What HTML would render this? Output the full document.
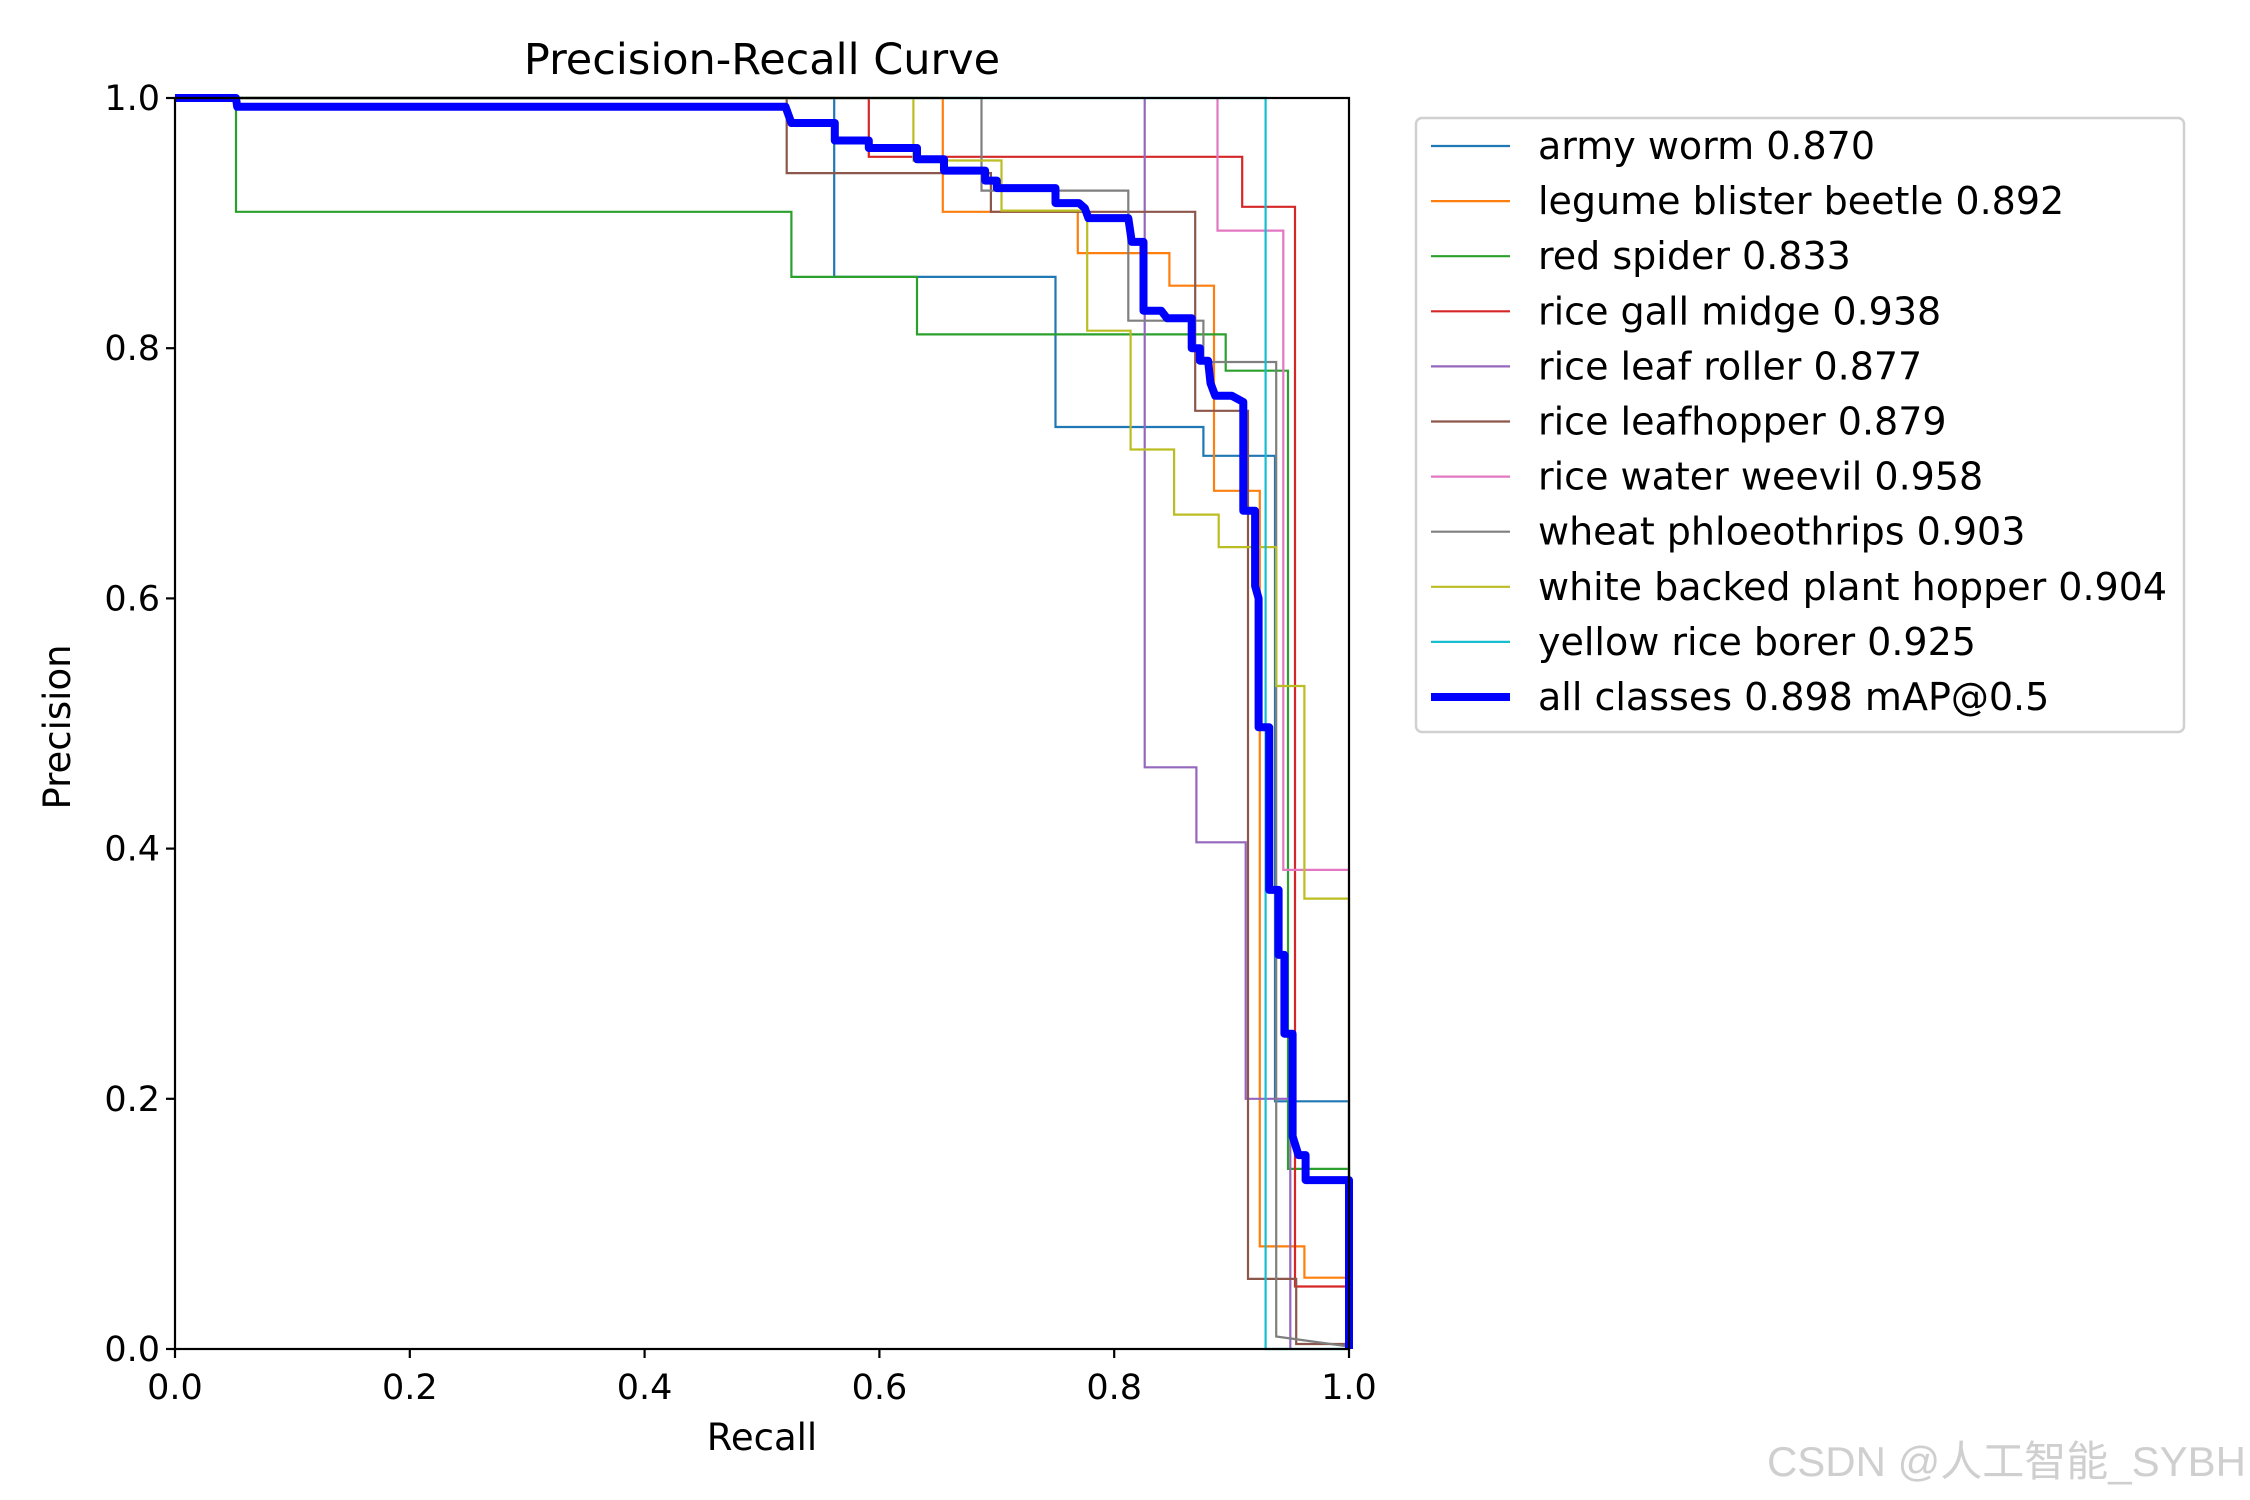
<!DOCTYPE html>
<html><head><meta charset="utf-8"><style>
body{margin:0;background:#fff;}
svg{display:block;font-family:"DejaVu Sans","Liberation Sans",sans-serif;}
</style></head><body>
<svg id="chart" width="2250" height="1500" viewBox="0 0 2250 1500" xmlns="http://www.w3.org/2000/svg">
<rect width="2250" height="1500" fill="#fff"/>
<g id="plot"></g>
<text x="762" y="74" font-size="43" text-anchor="middle">Precision-Recall Curve</text>
<text x="762" y="1450" font-size="37" text-anchor="middle">Recall</text>
<text x="70" y="727" font-size="37" text-anchor="middle" transform="rotate(-90 70 727)">Precision</text>
<g id="legend"></g>
<text x="2246" y="1476" font-size="42" text-anchor="end" fill="#cfcfcf" font-family="Liberation Sans, Noto Sans CJK SC, sans-serif">CSDN @人工智能_SYBH</text>
</svg>
<script>
const seriesNames = ["army worm","legume blister beetle","red spider","rice gall midge","rice leaf roller","rice leafhopper","rice water weevil","wheat phloeothrips","white backed plant hopper","yellow rice borer"];
const seriesAP = ["0.870","0.892","0.833","0.938","0.877","0.879","0.958","0.903","0.904","0.925"];
const seriesColors = ["#1f77b4","#ff7f0e","#2ca02c","#d62728","#9467bd","#8c564b","#e377c2","#7f7f7f","#bcbd22","#17becf"];
const recallArmyWorm = [0,0.5615,0.5615,0.75,0.75,0.876,0.876,0.937,0.937,1,1];
const precArmyWorm   = [1,1,0.857,0.857,0.737,0.737,0.714,0.714,0.198,0.198,0];
const recallLegume = [0,0.654,0.654,0.769,0.769,0.847,0.847,0.885,0.885,0.924,0.924,0.962,0.962,1,1];
const precLegume   = [1,1,0.909,0.909,0.876,0.876,0.85,0.85,0.686,0.686,0.082,0.082,0.057,0.057,0];
const recallRedSpider = [0,0.052,0.052,0.525,0.525,0.632,0.632,0.895,0.895,0.948,0.948,1,1];
const precRedSpider   = [1,1,0.909,0.909,0.857,0.857,0.811,0.811,0.782,0.782,0.144,0.144,0];
const recallGallMidge = [0,0.591,0.591,0.909,0.909,0.954,0.954,1,1];
const precGallMidge   = [1,1,0.953,0.953,0.913,0.913,0.05,0.05,0];
const recallLeafRoller = [0.826,0.826,0.87,0.87,0.912,0.912,0.95,0.95];
const precLeafRoller   = [1,0.465,0.465,0.405,0.405,0.2,0.2,0];
const recallLeafhopper = [0,0.521,0.521,0.695,0.695,0.869,0.869,0.914,0.914,0.955,0.955,1];
const precLeafhopper   = [1,1,0.94,0.94,0.909,0.909,0.75,0.75,0.056,0.056,0.004,0.004];
const recallWeevil = [0.888,0.888,0.944,0.944,1,1];
const precWeevil   = [1,0.894,0.894,0.383,0.383,0];
const recallThrips = [0,0.687,0.687,0.812,0.812,0.876,0.876,0.938,0.938,1];
const precThrips   = [1,1,0.926,0.926,0.822,0.822,0.789,0.789,0.01,0.002];
const recallPlantHopper = [0,0.629,0.629,0.704,0.704,0.777,0.777,0.814,0.814,0.851,0.851,0.889,0.889,0.938,0.938,0.962,0.962,1,1];
const precPlantHopper   = [1,1,0.95,0.95,0.91,0.91,0.814,0.814,0.719,0.719,0.667,0.667,0.641,0.641,0.53,0.53,0.36,0.36,0];
const recallBorer = [0,0.929,0.929,1];
const precBorer   = [1,1,0,0];
const recallAll = [0,0.052,0.053,0.52,0.525,0.562,0.562,0.591,0.591,0.632,0.632,0.655,0.655,0.69,0.69,0.7,0.7,0.75,0.75,0.77,0.775,0.778,0.812,0.815,0.825,0.825,0.84,0.845,0.866,0.866,0.873,0.873,0.88,0.882,0.886,0.9,0.91,0.91,0.92,0.92,0.923,0.923,0.932,0.932,0.94,0.94,0.945,0.945,0.952,0.952,0.957,0.963,0.963,1,1];
const precAll   = [1,1,0.993,0.993,0.98,0.98,0.966,0.966,0.96,0.96,0.951,0.951,0.942,0.942,0.934,0.934,0.928,0.928,0.916,0.916,0.912,0.904,0.904,0.885,0.885,0.83,0.83,0.824,0.824,0.8,0.8,0.79,0.79,0.772,0.762,0.762,0.757,0.67,0.67,0.61,0.6,0.497,0.497,0.367,0.367,0.315,0.315,0.252,0.252,0.17,0.155,0.155,0.135,0.135,0];
const xTicks = [0,0.2,0.4,0.6,0.8,1.0];
const yTicks = [0,0.2,0.4,0.6,0.8,1.0];
const xTickLabels = ["0.0","0.2","0.4","0.6","0.8","1.0"];
const yTickLabels = ["0.0","0.2","0.4","0.6","0.8","1.0"];

const recalls=[recallArmyWorm,recallLegume,recallRedSpider,recallGallMidge,recallLeafRoller,recallLeafhopper,recallWeevil,recallThrips,recallPlantHopper,recallBorer];
const precs=[precArmyWorm,precLegume,precRedSpider,precGallMidge,precLeafRoller,precLeafhopper,precWeevil,precThrips,precPlantHopper,precBorer];
const L=175,R=1349,T=98,B=1349;
const sx=v=>L+v*(R-L), sy=v=>B-v*(B-T);
const NS="http://www.w3.org/2000/svg";
const plot=document.getElementById('plot');
function mk(tag,attrs,parent){const e=document.createElementNS(NS,tag);for(const k in attrs)e.setAttribute(k,attrs[k]);parent.appendChild(e);return e;}
const clip=mk('clipPath',{id:'cl'},plot);mk('rect',{x:L,y:T-5,width:R-L+5,height:B-T+10},clip);
const lines=mk('g',{'clip-path':'url(#cl)'},plot);
function pts(rs,ps){return rs.map((r,i)=>sx(r).toFixed(1)+','+sy(ps[i]).toFixed(1)).join(' ');}
recalls.forEach((rs,i)=>{
  const pl=mk('polyline',{points:pts(rs,precs[i]),fill:'none',stroke:seriesColors[i],'stroke-width':2.2},lines);
  
  
});
const all=mk('polyline',{points:pts(recallAll,precAll),fill:'none',stroke:'#0000ff','stroke-width':8,'stroke-linejoin':'round'},lines);


const frame=mk('rect',{x:L,y:T,width:R-L,height:B-T,fill:'none',stroke:'#000','stroke-width':2.2},plot);


xTicks.forEach((v,i)=>{
  mk('line',{x1:sx(v),x2:sx(v),y1:B,y2:B+9,stroke:'#000','stroke-width':2.2},plot);
  const t=mk('text',{x:sx(v),y:B+50,'font-size':35,'text-anchor':'middle'},plot);
  t.textContent=xTickLabels[i];
  
  
});
yTicks.forEach((v,i)=>{
  mk('line',{x1:L-9,x2:L,y1:sy(v),y2:sy(v),stroke:'#000','stroke-width':2.2},plot);
  const t=mk('text',{x:L-15,y:sy(v)+12,'font-size':35,'text-anchor':'end'},plot);
  t.textContent=yTickLabels[i];
  
  
});
const lg=document.getElementById('legend');
mk('rect',{x:1416,y:118,width:768,height:614,rx:6,fill:'#fff',stroke:'#d0d0d0','stroke-width':2.5},lg);
const labels=seriesNames.map((n,i)=>n+' '+seriesAP[i]).concat(['all classes 0.898 mAP@0.5']);
const cols=seriesColors.concat(['#0000ff']);
labels.forEach((lab,i)=>{
  const y=146+55.1*i;
  const ln=mk('line',{x1:1431,x2:1510,y1:y,y2:y,stroke:cols[i],'stroke-width':i==10?8:2.2},lg);
  
  
  const t=mk('text',{x:1538,y:y+13,'font-size':38},lg);
  t.textContent=lab;
  
  
});
</script>
</body></html>
